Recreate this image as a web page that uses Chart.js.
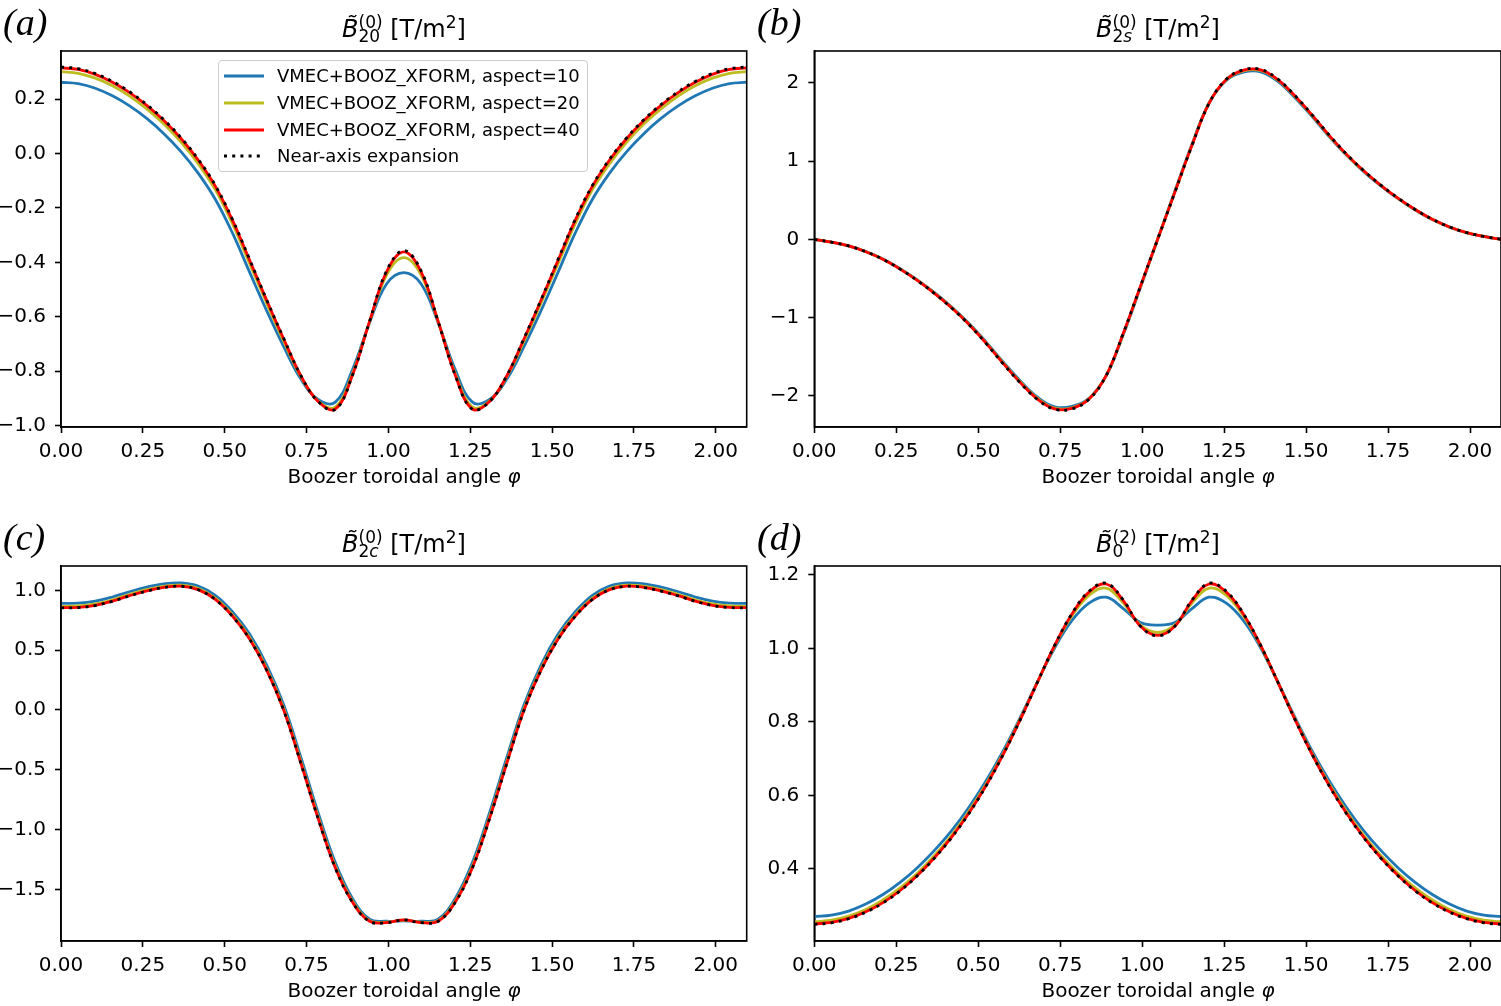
<!DOCTYPE html>
<html><head><meta charset="utf-8">
<script src="https://cdn.jsdelivr.net/npm/chart.js@4.4.1/dist/chart.umd.min.js"></script>
<style>
html,body{margin:0;padding:0;background:#fff;}
#fig{position:relative;width:1501px;height:1006px;overflow:hidden;background:#fff;font-family:"DejaVu Sans";color:#000;}
canvas{position:absolute;}
.title{position:absolute;font-size:24px;line-height:24px;white-space:nowrap;transform:translateX(-50%);}
.title i{font-style:oblique;}
.ss{display:inline-block;vertical-align:-5px;font-size:17px;line-height:14px;text-align:left;}
.ss span{display:block;}
.sp{font-size:17px;line-height:14px;vertical-align:9px;}
.lbl{position:absolute;font-family:"Liberation Serif";font-style:italic;font-size:38px;line-height:38px;}
.xlab{position:absolute;font-size:20px;line-height:24px;white-space:nowrap;transform:translateX(-50%);}
.xlab i{font-style:oblique;}
#legend{position:absolute;left:218px;top:60px;width:370px;height:112px;border:1px solid #cccccc;border-radius:4px;background:rgba(255,255,255,0.8);box-sizing:border-box;}
.lrow{position:absolute;left:0;height:24px;font-size:18px;line-height:24px;white-space:nowrap;}
.lrow svg{position:absolute;left:5px;top:0;}
.lrow span{position:absolute;left:58px;top:0;}
</style>
</head><body>
<div id="fig">
  <canvas id="cA" width="750" height="500" style="left:0;top:0;"></canvas>
  <canvas id="cB" width="751" height="500" style="left:750px;top:0;"></canvas>
  <canvas id="cC" width="750" height="506" style="left:0;top:500px;"></canvas>
  <canvas id="cD" width="751" height="506" style="left:750px;top:500px;"></canvas>

  <div class="lbl" style="left:3px;top:3px;">(a)</div>
  <div class="lbl" style="left:757px;top:3px;">(b)</div>
  <div class="lbl" style="left:3px;top:518px;">(c)</div>
  <div class="lbl" style="left:757px;top:518px;">(d)</div>

  <div class="title" style="left:404px;top:15px;"><i>B̃</i><span class="ss"><span>(0)</span><span>20</span></span> [T/m<span class="sp">2</span>]</div>
  <div class="title" style="left:1158px;top:15px;"><i>B̃</i><span class="ss"><span>(0)</span><span>2<i>s</i></span></span> [T/m<span class="sp">2</span>]</div>
  <div class="title" style="left:404px;top:530px;"><i>B̃</i><span class="ss"><span>(0)</span><span>2<i>c</i></span></span> [T/m<span class="sp">2</span>]</div>
  <div class="title" style="left:1158px;top:530px;"><i>B̃</i><span class="ss"><span>(2)</span><span>0</span></span> [T/m<span class="sp">2</span>]</div>

  <div class="xlab" style="left:404px;top:464px;">Boozer toroidal angle <i>φ</i></div>
  <div class="xlab" style="left:1158px;top:464px;">Boozer toroidal angle <i>φ</i></div>
  <div class="xlab" style="left:404px;top:978px;">Boozer toroidal angle <i>φ</i></div>
  <div class="xlab" style="left:1158px;top:978px;">Boozer toroidal angle <i>φ</i></div>

  <div id="legend"></div>
</div>
<script>
// ---------- data ----------
const phi = [0, 0.0524, 0.1047, 0.1571, 0.2094, 0.2618, 0.3142, 0.3665, 0.4189, 0.4712, 0.5236, 0.5760, 0.6283, 0.6807, 0.7330, 0.7854, 0.8378, 0.8901, 0.9425, 0.9948, 1.0472, 1.0996, 1.1519, 1.2043, 1.2566, 1.3090, 1.3614, 1.4137, 1.4661, 1.5184, 1.5708, 1.6232, 1.6755, 1.7279, 1.7802, 1.8326, 1.8850, 1.9373, 1.9897, 2.0420, 2.0944];

const seriesLabels = ['VMEC+BOOZ_XFORM, aspect=10', 'VMEC+BOOZ_XFORM, aspect=20', 'VMEC+BOOZ_XFORM, aspect=40', 'Near-axis expansion'];

const xTicks = [0, 0.25, 0.5, 0.75, 1.0, 1.25, 1.5, 1.75, 2.0];
const xTickLabels = ['0.00', '0.25', '0.50', '0.75', '1.00', '1.25', '1.50', '1.75', '2.00'];

const yTicksA = [-1.0, -0.8, -0.6, -0.4, -0.2, 0.0, 0.2];
const yTickLabelsA = ['−1.0', '−0.8', '−0.6', '−0.4', '−0.2', '0.0', '0.2'];
const yTicksB = [-2, -1, 0, 1, 2];
const yTickLabelsB = ['−2', '−1', '0', '1', '2'];
const yTicksC = [-1.5, -1.0, -0.5, 0.0, 0.5, 1.0];
const yTickLabelsC = ['−1.5', '−1.0', '−0.5', '0.0', '0.5', '1.0'];
const yTicksD = [0.4, 0.6, 0.8, 1.0, 1.2];
const yTickLabelsD = ['0.4', '0.6', '0.8', '1.0', '1.2'];

// (a) B20
const a10 = [0.262, 0.257, 0.240, 0.212, 0.175, 0.129, 0.073, 0.007, -0.072, -0.168, -0.292, -0.436, -0.578, -0.711, -0.830, -0.904, -0.914, -0.795, -0.622, -0.479, -0.438, -0.479, -0.622, -0.795, -0.914, -0.904, -0.830, -0.711, -0.578, -0.436, -0.292, -0.168, -0.072, 0.007, 0.073, 0.129, 0.175, 0.212, 0.240, 0.257, 0.262];
const a20 = [0.301, 0.295, 0.277, 0.249, 0.211, 0.164, 0.108, 0.042, -0.037, -0.133, -0.258, -0.404, -0.550, -0.691, -0.821, -0.910, -0.932, -0.810, -0.618, -0.446, -0.383, -0.446, -0.618, -0.810, -0.932, -0.910, -0.821, -0.691, -0.550, -0.404, -0.258, -0.133, -0.037, 0.042, 0.108, 0.164, 0.211, 0.249, 0.277, 0.295, 0.301];
const a40 = [0.315, 0.309, 0.291, 0.262, 0.224, 0.177, 0.121, 0.055, -0.024, -0.120, -0.245, -0.392, -0.540, -0.683, -0.818, -0.912, -0.940, -0.815, -0.617, -0.434, -0.362, -0.434, -0.617, -0.815, -0.940, -0.912, -0.818, -0.683, -0.540, -0.392, -0.245, -0.120, -0.024, 0.055, 0.121, 0.177, 0.224, 0.262, 0.291, 0.309, 0.315];
const aNae = [0.318, 0.312, 0.294, 0.265, 0.227, 0.180, 0.124, 0.058, -0.021, -0.117, -0.242, -0.389, -0.538, -0.681, -0.817, -0.912, -0.941, -0.816, -0.617, -0.431, -0.357, -0.431, -0.617, -0.816, -0.941, -0.912, -0.817, -0.681, -0.538, -0.389, -0.242, -0.117, -0.021, 0.058, 0.124, 0.180, 0.227, 0.265, 0.294, 0.312, 0.318];

// (b) B2s
const b10 = [0, -0.036, -0.084, -0.156, -0.252, -0.375, -0.519, -0.682, -0.865, -1.072, -1.309, -1.566, -1.808, -2.016, -2.139, -2.134, -2.030, -1.745, -1.215, -0.615, 0, 0.615, 1.215, 1.745, 2.030, 2.134, 2.139, 2.016, 1.808, 1.566, 1.309, 1.072, 0.865, 0.682, 0.519, 0.375, 0.252, 0.156, 0.084, 0.036, 0];
const b20 = [0, -0.036, -0.085, -0.157, -0.254, -0.378, -0.523, -0.687, -0.872, -1.081, -1.320, -1.579, -1.823, -2.032, -2.156, -2.152, -2.038, -1.741, -1.205, -0.604, 0, 0.604, 1.205, 1.741, 2.038, 2.152, 2.156, 2.032, 1.823, 1.579, 1.320, 1.081, 0.872, 0.687, 0.523, 0.378, 0.254, 0.157, 0.085, 0.036, 0];
const b40 = [0, -0.036, -0.085, -0.158, -0.255, -0.380, -0.525, -0.690, -0.875, -1.085, -1.325, -1.585, -1.830, -2.040, -2.165, -2.160, -2.040, -1.740, -1.200, -0.600, 0, 0.600, 1.200, 1.740, 2.040, 2.160, 2.165, 2.040, 1.830, 1.585, 1.325, 1.085, 0.875, 0.690, 0.525, 0.380, 0.255, 0.158, 0.085, 0.036, 0];
const bNae = [0, -0.036, -0.085, -0.158, -0.256, -0.381, -0.527, -0.692, -0.878, -1.088, -1.329, -1.590, -1.835, -2.046, -2.171, -2.166, -2.044, -1.740, -1.198, -0.598, 0, 0.598, 1.198, 1.740, 2.044, 2.166, 2.171, 2.046, 1.835, 1.590, 1.329, 1.088, 0.878, 0.692, 0.527, 0.381, 0.256, 0.158, 0.085, 0.036, 0];

// (c) B2c
const c10 = [0.890, 0.893, 0.910, 0.944, 0.988, 1.027, 1.054, 1.062, 1.036, 0.958, 0.821, 0.634, 0.376, 0.040, -0.399, -0.858, -1.275, -1.574, -1.748, -1.765, -1.762, -1.765, -1.748, -1.574, -1.275, -0.858, -0.399, 0.040, 0.376, 0.634, 0.821, 0.958, 1.036, 1.062, 1.054, 1.027, 0.988, 0.944, 0.910, 0.893, 0.890];
const c20 = [0.866, 0.869, 0.886, 0.920, 0.965, 1.005, 1.033, 1.043, 1.015, 0.935, 0.796, 0.606, 0.346, 0.009, -0.433, -0.892, -1.305, -1.595, -1.760, -1.773, -1.756, -1.773, -1.760, -1.595, -1.305, -0.892, -0.433, 0.009, 0.346, 0.606, 0.796, 0.935, 1.015, 1.043, 1.033, 1.005, 0.965, 0.920, 0.886, 0.869, 0.866];
const c40 = [0.855, 0.858, 0.875, 0.910, 0.955, 0.995, 1.024, 1.035, 1.006, 0.925, 0.785, 0.594, 0.333, -0.005, -0.447, -0.906, -1.318, -1.604, -1.765, -1.776, -1.754, -1.776, -1.765, -1.604, -1.318, -0.906, -0.447, -0.005, 0.333, 0.594, 0.785, 0.925, 1.006, 1.035, 1.024, 0.995, 0.955, 0.910, 0.875, 0.858, 0.855];
const cNae = [0.853, 0.856, 0.873, 0.908, 0.953, 0.993, 1.023, 1.034, 1.005, 0.923, 0.783, 0.592, 0.331, -0.007, -0.449, -0.908, -1.320, -1.606, -1.766, -1.777, -1.754, -1.777, -1.766, -1.606, -1.320, -0.908, -0.449, -0.007, 0.331, 0.592, 0.783, 0.923, 1.005, 1.034, 1.023, 0.993, 0.953, 0.908, 0.873, 0.856, 0.853];

// (d) B0^(2)
const d10 = [0.270, 0.274, 0.285, 0.304, 0.330, 0.363, 0.403, 0.450, 0.504, 0.567, 0.639, 0.721, 0.812, 0.909, 1.001, 1.075, 1.123, 1.139, 1.108, 1.070, 1.063, 1.070, 1.108, 1.139, 1.123, 1.075, 1.001, 0.909, 0.812, 0.721, 0.639, 0.567, 0.504, 0.450, 0.403, 0.363, 0.330, 0.304, 0.285, 0.274, 0.270];
const d20 = [0.256, 0.260, 0.271, 0.289, 0.315, 0.348, 0.388, 0.436, 0.491, 0.556, 0.630, 0.714, 0.808, 0.908, 1.006, 1.088, 1.144, 1.164, 1.123, 1.063, 1.043, 1.063, 1.123, 1.164, 1.144, 1.088, 1.006, 0.908, 0.808, 0.714, 0.630, 0.556, 0.491, 0.436, 0.388, 0.348, 0.315, 0.289, 0.271, 0.260, 0.256];
const d40 = [0.250, 0.254, 0.265, 0.283, 0.308, 0.341, 0.382, 0.430, 0.486, 0.551, 0.626, 0.711, 0.806, 0.908, 1.008, 1.093, 1.153, 1.175, 1.130, 1.060, 1.035, 1.060, 1.130, 1.175, 1.153, 1.093, 1.008, 0.908, 0.806, 0.711, 0.626, 0.551, 0.486, 0.430, 0.382, 0.341, 0.308, 0.283, 0.265, 0.254, 0.250];
const dNae = [0.249, 0.253, 0.264, 0.282, 0.307, 0.340, 0.381, 0.429, 0.485, 0.550, 0.625, 0.711, 0.806, 0.908, 1.008, 1.094, 1.155, 1.177, 1.131, 1.060, 1.034, 1.060, 1.131, 1.177, 1.155, 1.094, 1.008, 0.908, 0.806, 0.711, 0.625, 0.550, 0.485, 0.429, 0.381, 0.340, 0.307, 0.282, 0.264, 0.253, 0.249];

// ---------- styling ----------
const colors = ['#1f77b4', '#bcbd22', '#ff0000', '#000000'];
const LW = 2.8;
const DOT = [3, 5.2];

Chart.defaults.font.family = 'DejaVu Sans';
Chart.defaults.font.size = 20;
Chart.defaults.color = '#000';

const framePlugin = {
  id: 'frame',
  afterDatasetsDraw(chart) {
    const a = chart.chartArea, ctx = chart.ctx;
    ctx.save();
    ctx.strokeStyle = '#000';
    ctx.lineWidth = 1.6;
    ctx.strokeRect(a.left, a.top, a.right - a.left, a.bottom - a.top);
    ctx.restore();
  }
};

function pts(ys) { return phi.map((x, i) => ({x: x, y: ys[i]})); }

function makeChart(id, series, yMin, yMax, yTicks, yLabels, pad, yWidth, xHeight) {
  const datasets = series.map((ys, k) => ({
    label: seriesLabels[k],
    data: pts(ys),
    borderColor: colors[k],
    backgroundColor: colors[k],
    borderWidth: LW,
    borderDash: k === 3 ? DOT : [],
    borderCapStyle: 'butt',
    pointRadius: 0,
    tension: 0.4,
    fill: false,
    order: 3 - k
  }));
  return new Chart(document.getElementById(id), {
    type: 'line',
    data: {datasets},
    plugins: [framePlugin],
    options: {
      responsive: false,
      animation: false,
      events: [],
      layout: {padding: pad, autoPadding: false},
      plugins: {legend: {display: false}, tooltip: {enabled: false}, title: {display: false}},
      scales: {
        x: {
          type: 'linear', min: 0, max: 2.0944, bounds: 'data',
          afterBuildTicks: (ax) => { ax.ticks = xTicks.map(v => ({value: v})); },
          afterFit: (ax) => { ax.height = xHeight; },
          ticks: {autoSkip: false, maxRotation: 0, padding: 7, color: '#000',
                  callback: (v) => xTickLabels[xTicks.indexOf(v)]},
          grid: {display: true, drawOnChartArea: false, drawTicks: true, tickLength: 6, tickWidth: 1.6, tickColor: '#000'},
          border: {display: true, color: '#000', width: 1.6}
        },
        y: {
          type: 'linear', min: yMin, max: yMax, bounds: 'data',
          afterBuildTicks: (ax) => { ax.ticks = yTicks.map(v => ({value: v})); },
          afterFit: (ax) => { ax.width = yWidth; },
          ticks: {autoSkip: false, padding: 9, color: '#000',
                  callback: (v) => yLabels[yTicks.indexOf(v)]},
          grid: {display: true, drawOnChartArea: false, drawTicks: true, tickLength: 6, tickWidth: 1.6, tickColor: '#000'},
          border: {display: true, color: '#000', width: 1.6}
        }
      }
    }
  });
}

const chartA = makeChart('cA', [a10, a20, a40, aNae], -1.0055, 0.3768, yTicksA, yTickLabelsA,
  {top: 51, right: 3.3, bottom: 0, left: 0}, 61, 73);
makeChart('cB', [b10, b20, b40, bNae], -2.397, 2.405, yTicksB, yTickLabelsB,
  {top: 51, right: 0, bottom: 0, left: 0}, 64.3, 73);
makeChart('cC', [c10, c20, c40, cNae], -1.930, 1.203, yTicksC, yTickLabelsC,
  {top: 66, right: 3.3, bottom: 0, left: 0}, 61, 65);
makeChart('cD', [d10, d20, d40, dNae], 0.2035, 1.224, yTicksD, yTickLabelsD,
  {top: 66, right: 0, bottom: 0, left: 0}, 64.3, 65);

// ---------- legend (built from chart (a) datasets) ----------
const legend = document.getElementById('legend');
const rowTops = [3, 30, 57, 83];
chartA.data.datasets.forEach((ds, k) => {
  const row = document.createElement('div');
  row.className = 'lrow';
  row.style.top = rowTops[k] + 'px';
  const dash = ds.borderDash.length ? ds.borderDash.join(' ') : 'none';
  row.innerHTML = '<svg width="40" height="24"><line x1="0" y1="12" x2="40" y2="12" stroke="' + ds.borderColor +
    '" stroke-width="' + ds.borderWidth + '" stroke-dasharray="' + dash + '"/></svg><span>' + ds.label + '</span>';
  legend.appendChild(row);
});
</script>
</body></html>
